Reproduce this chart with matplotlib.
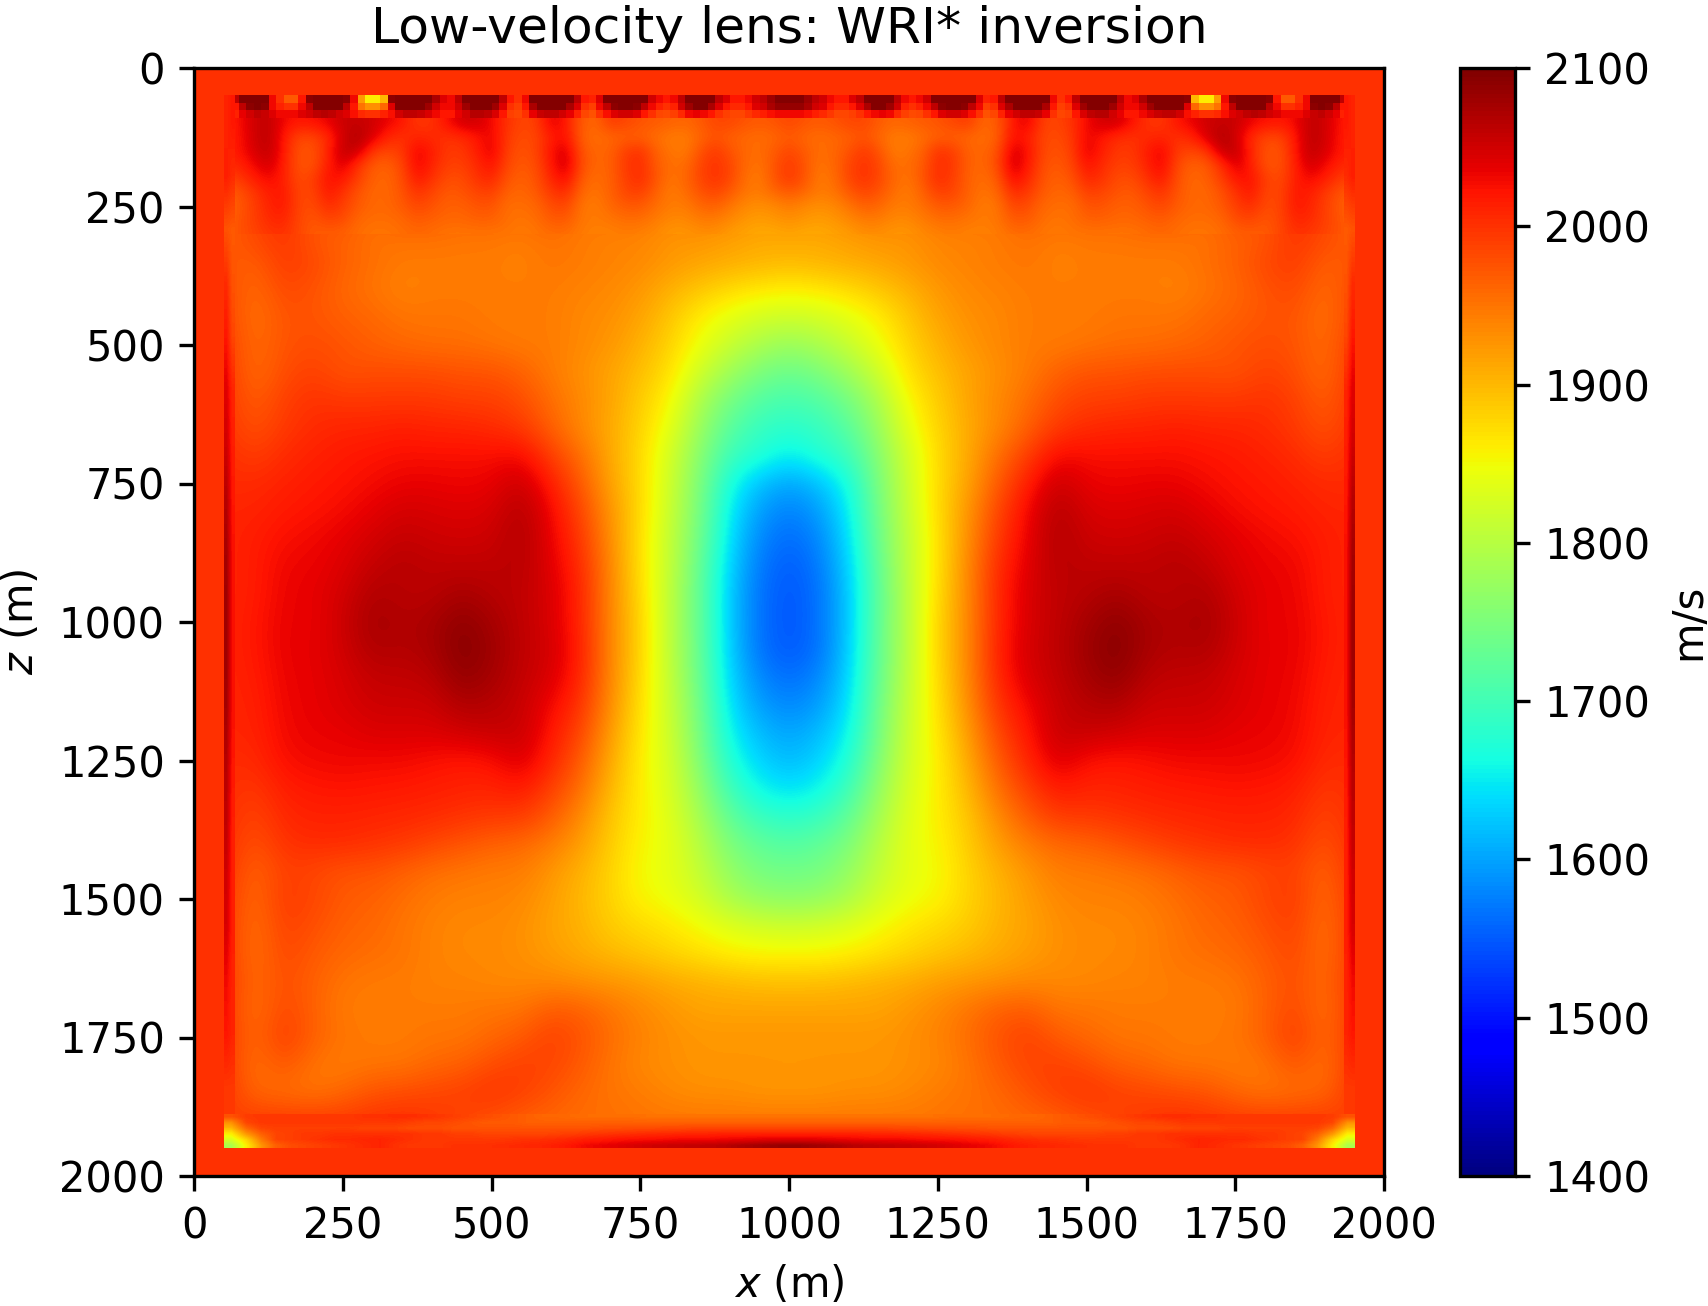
import numpy as np
import matplotlib
matplotlib.use("Agg")
import matplotlib.pyplot as plt
from matplotlib.patches import Rectangle

# Velocity (m/s), left half only, the model is mirrored at x=1000
# Rows z = 50, 100, ... 1950 and columns x = 50, 100, ... 1000
frame_value = 2000
velocity = [
    [2030, 2070, 2060, 2040, 2065, 2040, 2075, 2050, 2075, 2040, 2075, 2030, 2075, 2040, 2070, 2035, 2060, 2050, 2055, 2070],
    [2010, 2040, 2055, 2025, 2045, 2035, 2030, 1990, 2040, 2030, 1975, 2030, 1965, 1990, 1975, 1965, 1975, 1980, 1980, 1985],
    [2015, 2030, 2060, 1985, 2060, 2050, 2030, 1995, 1995, 2035, 1985, 2030, 2000, 1985, 1990, 1950, 1975, 1985, 1960, 1975],
    [1990, 2010, 2035, 1975, 2040, 1965, 2015, 1985, 2010, 2015, 1965, 2025, 1990, 1970, 2000, 1950, 1985, 1985, 1955, 1975],
    [1960, 1975, 2010, 1985, 1995, 1960, 1985, 1985, 1970, 1985, 1960, 1990, 1950, 1965, 1965, 1950, 1955, 1955, 1940, 1945],
    [1965, 1985, 2000, 1968, 1965, 1950, 1955, 1955, 1950, 1950, 1945, 1955, 1945, 1940, 1940, 1925, 1930, 1920, 1910, 1915],
    [1975, 1965, 1995, 1985, 1965, 1955, 1945, 1945, 1945, 1945, 1940, 1950, 1945, 1940, 1935, 1925, 1915, 1910, 1905, 1900],
    [1985, 1955, 1985, 1975, 1960, 1950, 1940, 1945, 1945, 1945, 1945, 1945, 1940, 1935, 1925, 1905, 1890, 1875, 1865, 1860],
    [1990, 1950, 1975, 1975, 1965, 1960, 1950, 1950, 1950, 1945, 1945, 1945, 1935, 1930, 1915, 1890, 1860, 1840, 1825, 1820],
    [1995, 1955, 1975, 1980, 1975, 1965, 1960, 1955, 1955, 1950, 1945, 1945, 1935, 1925, 1905, 1880, 1845, 1815, 1790, 1775],
    [2000, 1955, 1980, 1990, 1975, 1980, 1980, 1980, 1975, 1975, 1965, 1945, 1930, 1915, 1895, 1870, 1820, 1780, 1750, 1735],
    [2000, 1965, 1990, 2000, 1995, 1995, 1995, 1995, 1990, 1990, 1980, 1955, 1935, 1915, 1885, 1855, 1790, 1745, 1715, 1705],
    [2000, 1975, 1995, 2005, 2010, 2010, 2015, 2010, 2010, 2005, 1995, 1965, 1935, 1910, 1880, 1840, 1775, 1720, 1690, 1680],
    [2005, 1990, 2005, 2012, 2018, 2022, 2025, 2025, 2025, 2025, 2030, 1990, 1955, 1910, 1875, 1825, 1760, 1695, 1675, 1650],
    [2005, 2005, 2012, 2018, 2022, 2028, 2035, 2035, 2032, 2035, 2055, 2015, 1970, 1915, 1875, 1820, 1750, 1665, 1620, 1600],
    [2010, 2010, 2018, 2022, 2028, 2038, 2048, 2045, 2042, 2045, 2068, 2030, 1985, 1925, 1875, 1815, 1745, 1650, 1595, 1575],
    [2010, 2015, 2025, 2030, 2038, 2048, 2058, 2052, 2050, 2052, 2070, 2035, 1995, 1930, 1870, 1810, 1740, 1640, 1580, 1560],
    [2010, 2015, 2032, 2034, 2042, 2058, 2066, 2060, 2060, 2060, 2065, 2040, 2005, 1935, 1870, 1810, 1730, 1632, 1570, 1550],
    [2010, 2015, 2034, 2036, 2048, 2070, 2063, 2063, 2075, 2065, 2060, 2045, 2010, 1935, 1875, 1805, 1728, 1625, 1565, 1546],
    [2010, 2018, 2036, 2034, 2052, 2076, 2068, 2073, 2090, 2075, 2060, 2045, 2010, 1935, 1880, 1805, 1730, 1625, 1565, 1545],
    [2010, 2018, 2036, 2036, 2050, 2070, 2066, 2073, 2095, 2080, 2060, 2048, 2015, 1935, 1880, 1805, 1730, 1628, 1565, 1548],
    [2010, 2015, 2034, 2036, 2045, 2058, 2058, 2063, 2088, 2075, 2058, 2045, 2010, 1935, 1875, 1810, 1733, 1634, 1580, 1562],
    [2010, 2012, 2032, 2036, 2043, 2052, 2052, 2052, 2070, 2065, 2055, 2030, 2000, 1930, 1870, 1815, 1740, 1642, 1595, 1580],
    [2010, 2010, 2030, 2035, 2036, 2043, 2043, 2043, 2050, 2055, 2055, 2020, 1985, 1920, 1865, 1820, 1745, 1655, 1615, 1600],
    [2005, 2005, 2026, 2030, 2032, 2030, 2030, 2025, 2020, 2025, 2045, 2010, 1970, 1910, 1860, 1825, 1755, 1672, 1632, 1615],
    [2005, 1995, 2015, 2020, 2022, 2020, 2018, 2015, 2012, 2010, 2020, 1990, 1955, 1900, 1860, 1830, 1770, 1695, 1655, 1640],
    [2005, 1985, 2008, 2012, 2012, 2010, 2008, 2005, 2000, 1995, 1995, 1970, 1935, 1890, 1860, 1835, 1785, 1725, 1690, 1680],
    [2005, 1975, 2000, 2005, 2005, 2000, 1995, 1985, 1975, 1965, 1960, 1945, 1920, 1885, 1855, 1840, 1800, 1750, 1725, 1715],
    [2005, 1960, 1990, 1985, 1975, 1975, 1965, 1955, 1950, 1945, 1945, 1925, 1905, 1880, 1850, 1840, 1810, 1770, 1745, 1740],
    [2000, 1955, 1995, 1985, 1970, 1965, 1955, 1945, 1940, 1940, 1935, 1920, 1900, 1880, 1855, 1845, 1825, 1790, 1770, 1765],
    [2000, 1950, 1990, 1978, 1965, 1960, 1950, 1940, 1935, 1935, 1930, 1915, 1905, 1885, 1875, 1865, 1850, 1835, 1825, 1820],
    [2000, 1950, 1985, 1970, 1960, 1955, 1950, 1940, 1935, 1935, 1930, 1920, 1910, 1900, 1890, 1880, 1870, 1860, 1855, 1855],
    [2000, 1955, 1980, 1965, 1950, 1945, 1945, 1940, 1940, 1935, 1935, 1935, 1930, 1925, 1920, 1910, 1905, 1900, 1895, 1895],
    [2000, 1950, 1985, 1965, 1945, 1945, 1945, 1945, 1945, 1950, 1950, 1970, 1965, 1950, 1935, 1925, 1915, 1915, 1915, 1915],
    [2000, 1955, 1995, 1965, 1950, 1945, 1945, 1950, 1950, 1960, 1970, 1990, 1975, 1955, 1940, 1930, 1925, 1925, 1925, 1925],
    [2000, 1950, 1975, 1950, 1945, 1950, 1950, 1960, 1965, 1980, 1990, 1985, 1970, 1950, 1935, 1930, 1925, 1925, 1925, 1925],
    [2000, 1960, 1955, 1950, 1960, 1975, 1980, 1985, 1990, 2000, 1990, 1975, 1960, 1950, 1945, 1935, 1930, 1930, 1925, 1925],
    [1985, 1995, 1995, 1995, 1995, 2000, 2003, 1995, 1985, 1975, 1965, 1960, 1955, 1955, 1950, 1950, 1950, 1950, 1950, 1950],
    [1985, 1995, 1995, 1995, 1995, 2000, 2003, 1995, 1985, 1975, 1965, 1960, 1955, 1955, 1950, 1950, 1950, 1950, 1950, 1950],
]

# Finer part with the blobs under the surface, rows z = 100, 125, ... 300, columns x = 50, 75, ... 1000
upper = [
    [2005, 2025, 2050, 2060, 2030, 2020, 2025, 2035, 2055, 2055, 2050, 2035, 2020, 1995, 2000, 2025, 2050, 2050, 2030, 2000,
     1985, 1990, 2040, 2020, 1970, 1960, 1995, 1985, 1975, 1970, 1965, 1960, 1970, 1985, 1985, 1975, 1970, 1975, 1985],
    [2010, 2020, 2050, 2062, 2020, 1985, 1985, 2005, 2050, 2070, 2045, 2010, 2000, 2010, 2005, 2000, 2005, 2020, 2035, 1995,
     1980, 1985, 2015, 2025, 1965, 1955, 1960, 1965, 1965, 1955, 1945, 1945, 1960, 1975, 1965, 1960, 1955, 1960, 1970],
    [2015, 2020, 2045, 2060, 2020, 1975, 1975, 2010, 2060, 2055, 1995, 1985, 1995, 2035, 2015, 1995, 1995, 2015, 2040, 1990,
     1975, 1985, 2025, 2045, 1975, 1960, 1965, 1990, 2000, 1965, 1950, 1945, 1975, 1995, 1975, 1960, 1955, 1970, 1985],
    [2005, 2010, 2030, 2050, 2015, 1975, 1975, 2015, 2045, 2000, 1970, 1965, 1985, 2035, 2010, 1990, 1990, 2005, 2025, 1985,
     1970, 1980, 2020, 2050, 1980, 1960, 1965, 1995, 2005, 1970, 1955, 1955, 1985, 2000, 1985, 1960, 1950, 1975, 1995],
    [1985, 1995, 2015, 2030, 2015, 1980, 1990, 2025, 2020, 1990, 1965, 1960, 1980, 2020, 2000, 1980, 1980, 2000, 2010, 1975,
     1965, 1975, 2010, 2030, 1970, 1955, 1965, 1990, 2005, 1975, 1950, 1960, 1985, 2000, 1985, 1955, 1945, 1975, 1995],
    [1965, 1975, 1995, 2015, 2020, 1985, 1985, 2020, 2000, 1975, 1960, 1960, 1975, 2000, 1985, 1970, 1975, 1985, 1990, 1965,
     1960, 1970, 1995, 2005, 1960, 1950, 1965, 1985, 1990, 1965, 1945, 1955, 1975, 1985, 1970, 1950, 1945, 1960, 1970],
    [1960, 1970, 1990, 2010, 2020, 1985, 1980, 2005, 1990, 1970, 1960, 1960, 1970, 1985, 1975, 1965, 1965, 1975, 1975, 1955,
     1955, 1960, 1980, 1985, 1950, 1945, 1960, 1970, 1970, 1955, 1945, 1945, 1960, 1965, 1950, 1935, 1930, 1935, 1945],
    [1960, 1975, 1990, 2005, 2010, 1985, 1972, 1985, 1980, 1960, 1955, 1955, 1960, 1970, 1965, 1960, 1960, 1965, 1965, 1955,
     1950, 1955, 1970, 1970, 1950, 1945, 1950, 1955, 1955, 1945, 1935, 1935, 1945, 1945, 1935, 1925, 1920, 1925, 1930],
    [1965, 1975, 1985, 1996, 2000, 1985, 1968, 1968, 1965, 1955, 1950, 1950, 1955, 1960, 1955, 1950, 1950, 1950, 1950, 1950,
     1945, 1950, 1955, 1955, 1945, 1940, 1940, 1945, 1940, 1935, 1925, 1925, 1930, 1930, 1920, 1915, 1910, 1910, 1915],
]

# Scalloped band right under the top of the model, x = 50 to 1000 in 12.5 m columns
top_row1 = [1990, 2060, 2095, 2095, 2095, 2095, 2030, 2000, 1970, 1970, 2020, 2090, 2095, 2095, 2095, 2095,
            2090, 2030, 1920, 1860, 1860, 1900, 2090, 2095, 2095, 2095, 2095, 2095, 2070, 2040, 2030, 2060,
            2095, 2095, 2095, 2095, 2095, 2060, 2020, 2000, 2030, 2095, 2095, 2095, 2095, 2095, 2095, 2060,
            2020, 2010, 2040, 2095, 2095, 2095, 2095, 2095, 2095, 2050, 2030, 2020, 2030, 2060, 2095, 2095,
            2095, 2095, 2060, 2040, 2020, 2020, 2030, 2050, 2060, 2080, 2095, 2095]
top_row2 = [1980, 2020, 2060, 2090, 2095, 2090, 2030, 2010, 2000, 2000, 2030, 2060, 2095, 2095, 2095, 2095,
            2060, 2020, 1950, 1930, 1930, 1960, 2040, 2095, 2095, 2095, 2095, 2080, 2050, 2030, 2030, 2050,
            2080, 2095, 2095, 2095, 2080, 2040, 2000, 1990, 2020, 2070, 2095, 2095, 2095, 2095, 2070, 2040,
            2000, 1990, 2030, 2060, 2090, 2095, 2095, 2090, 2060, 2030, 2010, 2000, 2010, 2050, 2080, 2095,
            2095, 2070, 2040, 2020, 2005, 2005, 2020, 2040, 2050, 2070, 2085, 2085]
top_row3 = [2000, 2010, 2035, 2050, 2060, 2055, 2040, 2030, 2030, 2030, 2040, 2050, 2060, 2065, 2060, 2050,
            2040, 2025, 2005, 2000, 2000, 2010, 2025, 2050, 2060, 2060, 2055, 2045, 2030, 2020, 2020, 2035,
            2050, 2065, 2065, 2060, 2045, 2020, 1990, 1985, 2000, 2035, 2055, 2060, 2060, 2050, 2035, 2010,
            1985, 1975, 2000, 2025, 2040, 2050, 2050, 2040, 2020, 2000, 1985, 1980, 1990, 2005, 2030, 2035,
            2030, 2020, 2000, 1990, 1985, 1985, 1995, 2005, 2015, 2025, 2030, 2030]

# Thin dark line on the side of the model, z = 100, 200, ... 1800
side_col1 = [2010, 2015, 1975, 2005, 2020, 2040, 2050, 2065, 2075, 2080,
             2080, 2075, 2065, 2060, 2050, 2045, 2030, 2020, 1995]
side_col2 = [2020, 2005, 1970, 1975, 1985, 2010, 2015, 2020, 2025, 2025,
             2025, 2025, 2020, 2015, 2015, 2015, 2010, 2010, 1995]

# Bright stripe at the bottom, x = 50 to 975 in 25 m columns, rows 1890 to 1950
bottom_row0 = [1975, 1992, 1995, 1995, 1995, 1995, 1995, 1995, 1995, 2000, 2000, 2003, 2003, 2000, 1995, 1990,
               1985, 1980, 1975, 1970, 1965, 1960, 1960, 1957, 1955, 1955, 1955, 1955, 1952, 1952, 1952, 1952,
               1952, 1952, 1952, 1952, 1952, 1952]
bottom_row1 = [1930, 1985, 1995, 1995, 1995, 1995, 1995, 1995, 1995, 1995, 1995, 1995, 1990, 1985, 1985, 1980,
               1975, 1970, 1970, 1970, 1965, 1965, 1965, 1965, 1965, 1965, 1965, 1965, 1965, 1965, 1965, 1965,
               1965, 1965, 1965, 1965, 1965, 1965]
bottom_row2 = [1900, 1960, 1985, 1990, 1990, 1990, 1990, 1990, 1990, 1985, 1985, 1985, 1980, 1980, 1980, 1975,
               1975, 1975, 1975, 1975, 1975, 1975, 1975, 1975, 1975, 1978, 1978, 1980, 1980, 1982, 1982, 1985,
               1985, 1985, 1985, 1985, 1985, 1985]
bottom_row3 = [1860, 1925, 1965, 1985, 1990, 1995, 1995, 2000, 2000, 2000, 2000, 2000, 2000, 1995, 1995, 1990,
               1990, 1985, 1985, 1985, 1985, 1985, 1988, 1990, 1995, 1997, 2000, 2002, 2005, 2006, 2008, 2010,
               2010, 2012, 2012, 2012, 2012, 2012]
bottom_row4 = [1830, 1880, 1945, 1985, 1990, 1995, 2000, 2005, 2005, 2008, 2010, 2005, 2000, 1995, 1995, 1995,
               1995, 1995, 1995, 1998, 2000, 2002, 2005, 2010, 2015, 2018, 2022, 2024, 2025, 2027, 2030, 2030,
               2030, 2033, 2035, 2037, 2040, 2040]
bottom_row5 = [1790, 1860, 1925, 1965, 1980, 1985, 1990, 1995, 2000, 2005, 2010, 2000, 1995, 1995, 1995, 2000,
               2000, 2000, 2003, 2005, 2008, 2010, 2015, 2022, 2030, 2035, 2040, 2045, 2050, 2053, 2055, 2058,
               2060, 2063, 2070, 2075, 2080, 2085]

cbar_ticks = [1400, 1500, 1600, 1700, 1800, 1900, 2000, 2100]
axis_ticks = [0, 250, 500, 750, 1000, 1250, 1500, 1750, 2000]


def mirror(values):
    values = np.array(values, dtype=float)
    return np.hstack([values, values[:, -2::-1]])


def mirror_cells(values):
    values = np.array(values, dtype=float)
    return np.hstack([values, values[:, ::-1]])


fig = plt.figure(figsize=(1708 / 300, 1306 / 300), dpi=300)
ax = fig.add_axes([194 / 1708, 1 - 1176 / 1306, 1190 / 1708, 1108 / 1306])
cax = fig.add_axes([1460 / 1708, 1 - 1176 / 1306, 55 / 1708, 1108 / 1306])

style = dict(cmap="jet", vmin=1400, vmax=2100, aspect="auto")

# Frame around the model
ax.imshow([[frame_value]], extent=[0, 2000, 2000, 0], **style)

# Main body, nodes sit on the 50 m grid so the image is half a cell wider
im = ax.imshow(mirror(velocity), extent=[25, 1975, 1975, 25],
               interpolation="bicubic", **style)
im.set_clip_path(Rectangle((50, 50), 1900, 1900, transform=ax.transData))

# Finer grid for the shallow part
im_upper = ax.imshow(mirror(upper), extent=[37.5, 1962.5, 312.5, 87.5],
                     interpolation="bicubic", **style)
im_upper.set_clip_path(Rectangle((50, 87.5), 1900, 212.5, transform=ax.transData))

# Sharp details near the edges of the model
top = mirror_cells([top_row1, top_row2, top_row3])
ax.imshow(top, extent=[50, 1950, 90, 50], interpolation="nearest", **style)

side = np.array([side_col1, side_col2], dtype=float).T
ax.imshow(side, extent=[50, 68, 1890, 50], interpolation="bilinear", **style)
ax.imshow(side[:, ::-1], extent=[1932, 1950, 1890, 50],
          interpolation="bilinear", **style)

bottom = mirror_cells([bottom_row0, bottom_row1, bottom_row2,
                       bottom_row3, bottom_row4, bottom_row5])
ax.imshow(bottom, extent=[50, 1950, 1950, 1890],
          interpolation="bilinear", **style)

ax.set_xlim(0, 2000)
ax.set_ylim(2000, 0)
ax.set_xticks(axis_ticks)
ax.set_yticks(axis_ticks)
ax.set_xlabel("$x$ (m)")
ax.set_ylabel("$z$ (m)")
ax.set_title("Low-velocity lens: WRI* inversion", fontsize=12.1)

cbar = fig.colorbar(im, cax=cax, ticks=cbar_ticks)
cbar.set_label("m/s")

fig.savefig("out.png", dpi=300)
